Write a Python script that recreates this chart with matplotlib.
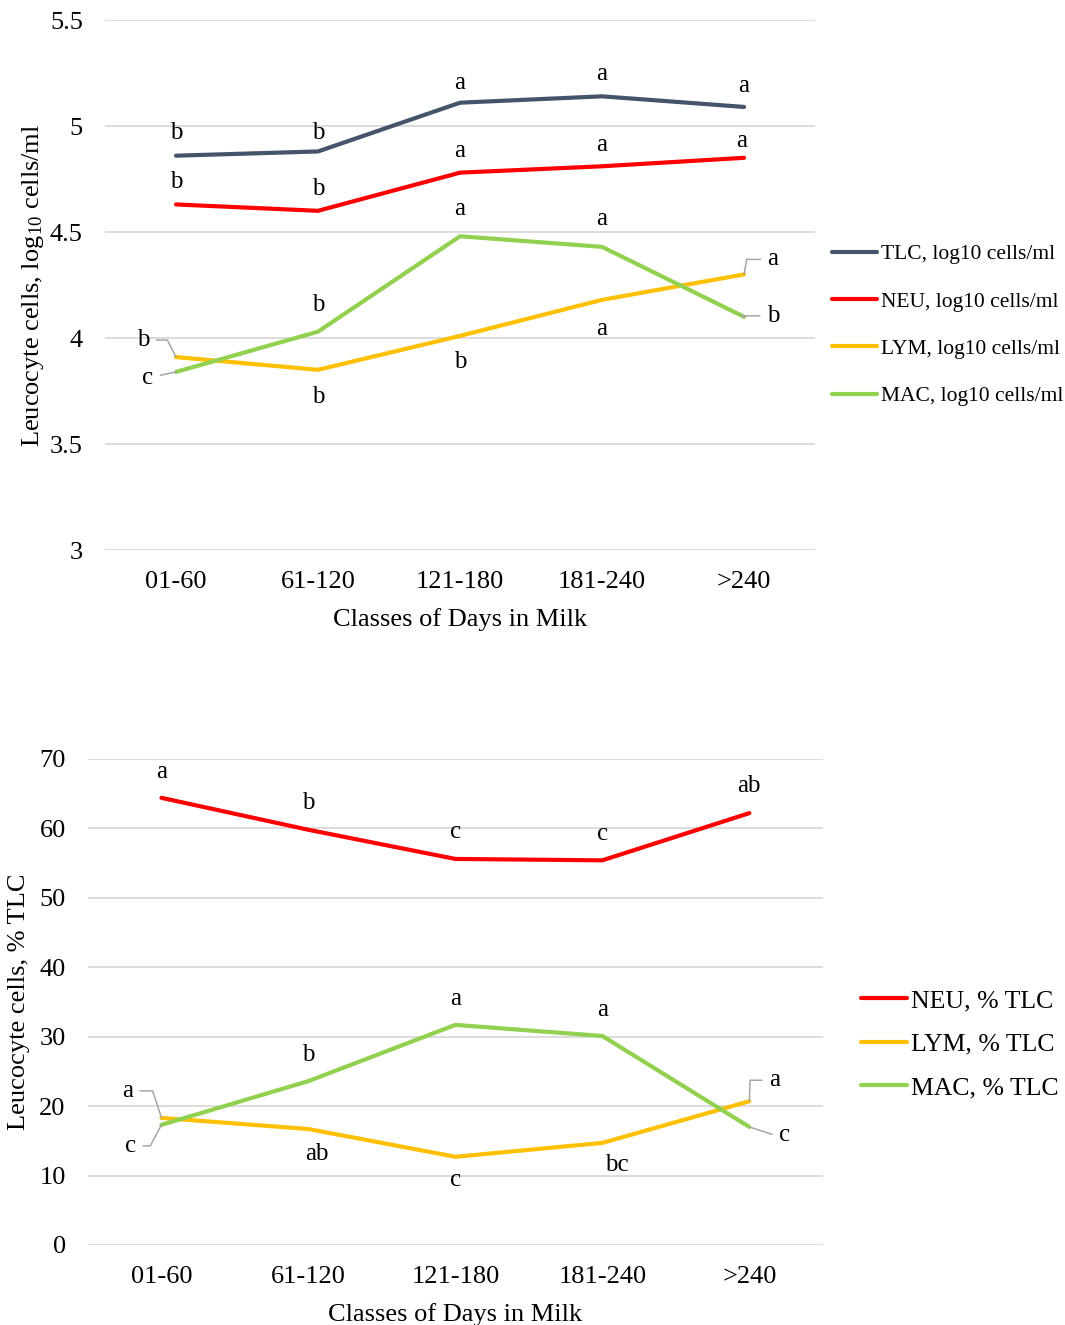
import matplotlib
matplotlib.use('Agg')
import matplotlib.pyplot as plt

plt.rcParams['font.family'] = ['Liberation Serif', 'DejaVu Serif']
plt.rcParams['mathtext.fontset'] = 'stix'

# ---------------------------------------------------------
# data
# ---------------------------------------------------------
classes = ['01-60', '61-120', '121-180', '181-240', '>240']

tlc_log = [4.86, 4.88, 5.11, 5.14, 5.09]
neu_log = [4.63, 4.60, 4.78, 4.81, 4.85]
lym_log = [3.91, 3.85, 4.01, 4.18, 4.30]
mac_log = [3.84, 4.03, 4.48, 4.43, 4.10]

tlc_log_lett = ['b', 'b', 'a', 'a', 'a']
neu_log_lett = ['b', 'b', 'a', 'a', 'a']
lym_log_lett = ['b', 'b', 'b', 'a', 'a']
mac_log_lett = ['c', 'b', 'a', 'a', 'b']

neu_pct = [64.4, 59.8, 55.6, 55.4, 62.2]
lym_pct = [18.3, 16.7, 12.7, 14.7, 20.7]
mac_pct = [17.3, 23.6, 31.7, 30.1, 17.0]

neu_pct_lett = ['a', 'b', 'c', 'c', 'ab']
lym_pct_lett = ['a', 'ab', 'c', 'bc', 'a']
mac_pct_lett = ['c', 'b', 'a', 'a', 'c']

C_TLC = '#44546A'
C_NEU = '#FF0000'
C_LYM = '#FFC000'
C_MAC = '#92D050'
GRID = '#D9D9D9'
LEAD = '#A6A6A6'
FS = 19


def letters(ax, vals, lett, offs, leads):
    # offs: pixel offsets of the letter from the point, leads: None / 'line' / angleB
    for i, (v, s) in enumerate(zip(vals, lett)):
        kw = {}
        if leads[i] is not None:
            cs = 'arc3' if leads[i] == 'line' else 'angle,angleA=0,angleB=%d,rad=0' % leads[i]
            kw['arrowprops'] = dict(arrowstyle='-', color=LEAD, lw=1.1,
                                    connectionstyle=cs, shrinkA=3, shrinkB=0)
        dx, dy = offs[i]
        ax.annotate(s, (i, v), xytext=(dx, dy - 2), textcoords='offset pixels',
                    ha='center', va='center', fontsize=FS - 1, **kw)


def style(ax, ylim, yticks, ylabel, ylpad):
    x = range(len(classes))
    ax.set_xlim(-0.5, len(classes) - 0.5)
    ax.set_ylim(*ylim)
    ax.set_yticks(yticks)
    ax.set_yticklabels(['%g' % t for t in yticks])
    ax.set_xticks(list(x))
    ax.set_xticklabels(classes)
    for sp in ax.spines.values():
        sp.set_visible(False)
    ax.tick_params(length=0, labelsize=FS)
    ax.tick_params(axis='y', pad=16)
    ax.tick_params(axis='x', pad=15)
    ax.grid(axis='y', color=GRID, lw=1.3)
    ax.set_axisbelow(True)
    ax.set_xlabel('Classes of Days in Milk', fontsize=FS, labelpad=11)
    ax.set_ylabel(ylabel, fontsize=FS, labelpad=ylpad)


fig = plt.figure(figsize=(10.65, 13.25), dpi=100)

# =========================================================
# top: log10 cells/ml
# =========================================================
ax1 = fig.add_axes([0.0986, 0.5849, 0.6667, 0.4])
x = range(len(classes))
ax1.plot(x, tlc_log, color=C_TLC, lw=3, label='TLC, log10 cells/ml', solid_capstyle='round')
ax1.plot(x, neu_log, color=C_NEU, lw=3, label='NEU, log10 cells/ml', solid_capstyle='round')
ax1.plot(x, lym_log, color=C_LYM, lw=3, label='LYM, log10 cells/ml', solid_capstyle='round')
ax1.plot(x, mac_log, color=C_MAC, lw=3, label='MAC, log10 cells/ml', solid_capstyle='round')
style(ax1, (3, 5.5), [3, 3.5, 4, 4.5, 5, 5.5],
      r'Leucocyte cells, log$_{\mathregular{10}}$ cells/ml', 3)

letters(ax1, tlc_log, tlc_log_lett, [(0, 25), (0, 20), (0, 22), (0, 24), (0, 23)], [None] * 5)
letters(ax1, neu_log, neu_log_lett, [(0, 24), (0, 24), (0, 24), (0, 23), (-2, 19)], [None] * 5)
letters(ax1, lym_log, lym_log_lett, [(-33, 19), (0, -25), (0, -24), (0, -27), (29, 17)],
        [-63, None, None, None, 80])
letters(ax1, mac_log, mac_log_lett, [(-28, -4), (0, 29), (0, 29), (0, 30), (29, 3)],
        ['line', None, None, None, -20])

fig.legend(handles=ax1.get_lines(), loc='center left', bbox_to_anchor=(0.781, 0.7545),
           frameon=False, fontsize=15.5, handlelength=2.1, handletextpad=0.2,
           labelspacing=1.27, borderpad=0, borderaxespad=0)

# =========================================================
# bottom: % TLC
# =========================================================
ax2 = fig.add_axes([0.0826, 0.0604, 0.690, 0.3668])
ax2.plot(x, neu_pct, color=C_NEU, lw=3, label='NEU, % TLC', solid_capstyle='round')
ax2.plot(x, lym_pct, color=C_LYM, lw=3, label='LYM, % TLC', solid_capstyle='round')
ax2.plot(x, mac_pct, color=C_MAC, lw=3, label='MAC, % TLC', solid_capstyle='round')
style(ax2, (0, 70), list(range(0, 71, 10)), 'Leucocyte cells, % TLC', 7)

letters(ax2, neu_pct, neu_pct_lett, [(0, 28), (0, 29), (0, 29), (0, 28), (0, 29)], [None] * 5)
letters(ax2, lym_pct, lym_pct_lett, [(-34, 29), (8, -23), (0, -21), (14, -20), (25, 23)],
        [-72, None, None, None, 88])
letters(ax2, mac_pct, mac_pct_lett, [(-31, -19), (0, 28), (0, 28), (0, 28), (35, -6)],
        [62, None, None, None, -18])

fig.legend(handles=ax2.get_lines(), loc='center left', bbox_to_anchor=(0.808, 0.212),
           frameon=False, fontsize=18.5, handlelength=1.8, handletextpad=0.15,
           labelspacing=0.8, borderpad=0, borderaxespad=0)

fig.savefig('out.png', dpi=100)
